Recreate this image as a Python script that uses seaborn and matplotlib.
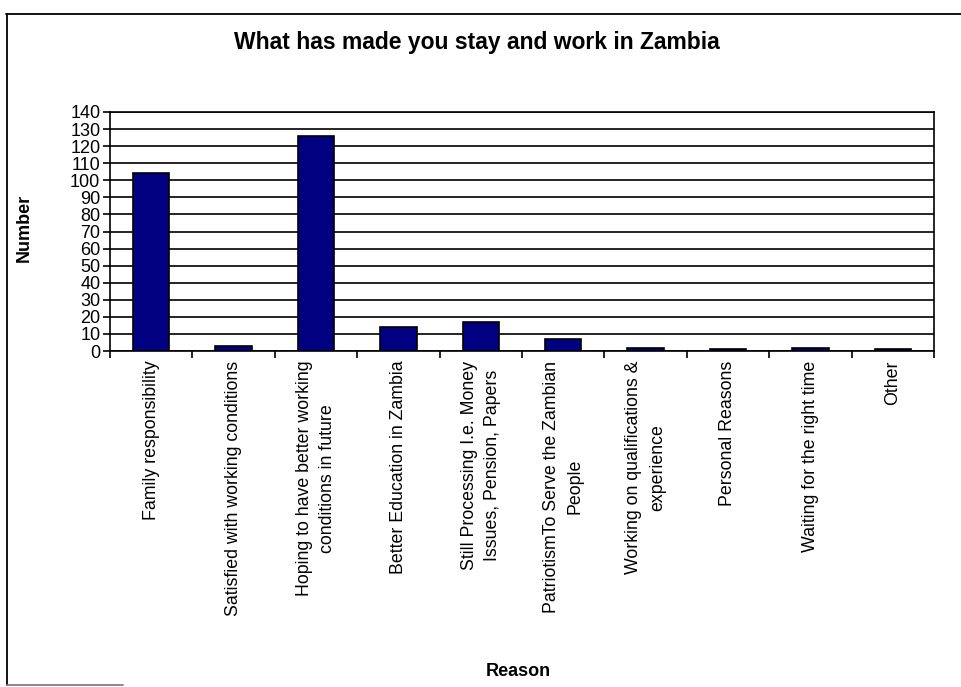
import matplotlib
matplotlib.use("Agg")
import matplotlib.pyplot as plt
import seaborn as sns
import numpy as np
from matplotlib.lines import Line2D

# data
reasons = [
    "Family responsibility",
    "Satisfied with working conditions",
    "Hoping to have better working\nconditions in future",
    "Better Education in Zambia",
    "Still Processing I.e. Money\nIssues, Pension, Papers",
    "PatriotismTo Serve the Zambian\nPeople",
    "Working on qualifications &\nexperience",
    "Personal Reasons",
    "Waiting for the right time",
    "Other",
]
counts = [104, 3, 126, 14, 17, 7, 2, 1, 2, 1]
y_ticks = list(range(0, 141, 10))

sns.set_style("white")
plt.rcParams["font.family"] = ["Liberation Sans", "DejaVu Sans"]
plt.rcParams["text.color"] = "black"
plt.rcParams["xtick.color"] = "black"
plt.rcParams["ytick.color"] = "black"

fig = plt.figure(figsize=(9.61, 6.87), dpi=100)
ax = fig.add_axes([110 / 961, 1 - 351 / 687, 824 / 961, 239 / 687])

sns.barplot(x=reasons, y=counts, color="#000080", width=0.44,
            edgecolor="black", linewidth=1.2, saturation=1, ax=ax, zorder=3)

ax.set_ylim(0, 140)
ax.set_xlim(-0.5, len(reasons) - 0.5)
ax.set_yticks(y_ticks)
ax.set_yticklabels([str(v) for v in y_ticks], fontsize=13)
ax.yaxis.grid(True, color="black", linewidth=1.2, zorder=0)
ax.set_axisbelow(True)

# category labels at centres, tick marks on boundaries
ax.set_xticks(np.arange(len(reasons)))
ax.set_xticklabels(reasons, rotation=90, fontsize=12.8, ha="center", va="top",
                   multialignment="center", linespacing=1.5)
ax.tick_params(axis="x", which="major", length=0, pad=7)
ax.set_xticks(np.arange(len(reasons) + 1) - 0.5, minor=True)
ax.tick_params(axis="x", which="minor", length=5, width=1.2, direction="out",
               bottom=True, color="black")
ax.tick_params(axis="y", length=5, width=1.2, direction="out", left=True,
               color="black", pad=2)

for s in ax.spines.values():
    s.set_visible(True)
    s.set_color("black")
    s.set_linewidth(1.2)

ax.set_xlabel("")
ax.set_ylabel("")

fig.text(477 / 961, 1 - 43 / 687, "What has made you stay and work in Zambia",
         ha="center", va="center", fontsize=16.5, fontweight="bold")
fig.text(24 / 961, 1 - 228 / 687, "Number", rotation=90, ha="center",
         va="center", fontsize=13, fontweight="bold")
fig.text(518 / 961, 1 - 671 / 687, "Reason", ha="center", va="center",
         fontsize=13, fontweight="bold")

# outer chart border (partly visible in the scan)
fig.add_artist(Line2D([6 / 961, 1.0], [1 - 14 / 687] * 2, color="black",
                      linewidth=1.3, transform=fig.transFigure))
fig.add_artist(Line2D([7 / 961] * 2, [1 - 14 / 687, 1 - 685 / 687],
                      color="black", linewidth=1.3, transform=fig.transFigure))
fig.add_artist(Line2D([7 / 961, 123 / 961], [1 - 685 / 687] * 2,
                      color="gray", linewidth=1.3, transform=fig.transFigure))

fig.savefig("out.png", dpi=100)
